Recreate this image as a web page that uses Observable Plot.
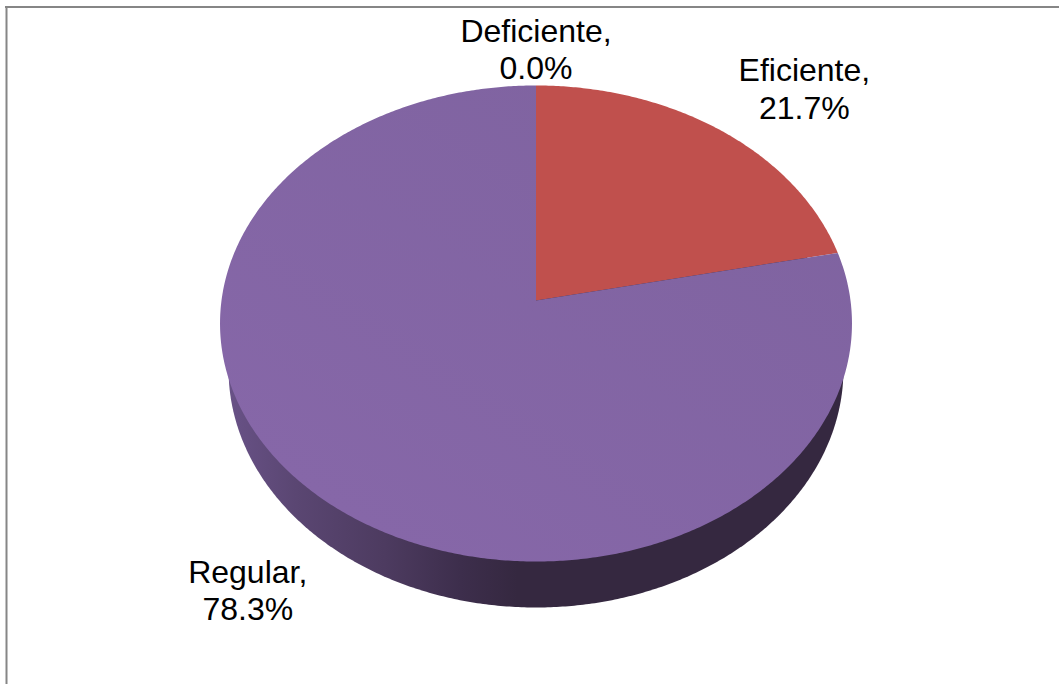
<!DOCTYPE html>
<html>
<head>
<meta charset="utf-8">
<script src="https://cdn.jsdelivr.net/npm/d3@7"></script>
<script src="https://cdn.jsdelivr.net/npm/@observablehq/plot@0.6"></script>
<style>
  html, body { margin: 0; padding: 0; background: #fff; overflow: hidden; }
  svg { display: block; }
</style>
</head>
<body>
<div id="chart"></div>
<script>
// Share of responses per rating, clockwise from twelve o'clock.
const categories = ["Deficiente", "Eficiente", "Regular"];
const shares = [0.0, 21.7, 78.3];
const sliceColors = ["#4F81BD", "#C0504D", "url(#face)"];

const W = 1059, H = 684;
const frameColor = "#868686";

// Tilted disc: a circle seen in perspective, centred on its apex.
const disc = {cx: 535.5, cy: 300, a: 314.5, b: 235.8, k: 0.0966};
const base = {cx: 535.5, cy: 346, a: 306, b: 235.8, k: 0.0966};

function project(p, turn) {
  const t = turn * 2 * Math.PI;
  const u = Math.sin(t), v = Math.cos(t), w = 1 + p.k * v;
  return {x: p.cx + p.a * u / w, y: p.cy - p.b * v / w};
}

function arc(p, from, to) {
  const n = Math.max(2, Math.ceil((to - from) * 720));
  return d3.range(n + 1).map((i) => project(p, from + (to - from) * i / n));
}

// Cumulative slice extents from the shares.
let running = 0;
const slices = categories.map((name, i) => {
  const from = running / 100;
  running += shares[i];
  return {name, share: shares[i], color: sliceColors[i], from, to: running / 100};
});

// Label placement, as an offset from the slice's mid-angle point on the rim.
const labelOffsets = {
  Deficiente: {dx: 0, dy: -37},
  Eficiente: {dx: 84, dy: -42},
  Regular: {dx: -74, dy: 91}
};

// Linear gradients for the disc's side wall and its face.
function linear(id, [x1, y1, x2, y2], stops) {
  const ns = "http://www.w3.org/2000/svg";
  const g = document.createElementNS(ns, "linearGradient");
  g.setAttribute("id", id);
  g.setAttribute("gradientUnits", "userSpaceOnUse");
  Object.entries({x1, y1, x2, y2}).forEach(([k, v]) => g.setAttribute(k, v));
  stops.forEach(([o, c]) => {
    const s = document.createElementNS(ns, "stop");
    s.setAttribute("offset", o);
    s.setAttribute("stop-color", c);
    g.appendChild(s);
  });
  return g;
}

const gradients = () => {
  const defs = document.createElementNS("http://www.w3.org/2000/svg", "defs");
  defs.appendChild(linear("rim", [220, 0, 851, 0], [
    [0, "#6A5389"], [0.12, "#5A4672"], [0.26, "#4D3B60"],
    [0.38, "#3D2E4C"], [0.47, "#352840"], [1, "#352840"]
  ]));
  defs.appendChild(linear("face", [700, 100, 400, 550], [[0, "#7F63A0"], [1, "#8667A8"]]));
  return defs;
};

const sliceMarks = slices.filter((s) => s.share > 0).map((s) => {
  const center = {x: disc.cx, y: disc.cy};
  return Plot.line([center, ...arc(disc, s.from, s.to), center], {
    x: "x", y: "y", fill: s.color, stroke: "none", z: null
  });
});

const labelMarks = slices.map((s) => {
  const anchor = project(disc, (s.from + s.to) / 2);
  const off = labelOffsets[s.name];
  return Plot.text([{...anchor, label: `${s.name},\n${s.share.toFixed(1)}%`}], {
    x: "x", y: "y", text: "label", dx: off.dx, dy: off.dy,
    fontSize: 32, lineHeight: 37.5 / 32, fill: "#000", lineAnchor: "middle", textAnchor: "middle"
  });
});

const chart = Plot.plot({
  width: W, height: H,
  margin: 0,
  style: {background: "#fff", fontFamily: "'Liberation Sans', Arial, sans-serif"},
  x: {domain: [0, W], range: [0, W], axis: null},
  y: {domain: [0, H], range: [0, H], axis: null},
  marks: [
    gradients,
    Plot.ruleX([6], {y1: 6, y2: H, stroke: frameColor, strokeWidth: 2}),
    Plot.ruleY([6.5], {x1: 5, x2: W, stroke: frameColor, strokeWidth: 2}),
    Plot.line(arc(base, 0, 1), {x: "x", y: "y", fill: "url(#rim)", stroke: "none", z: null}),
    ...sliceMarks,
    ...labelMarks
  ]
});
document.getElementById("chart").appendChild(chart);
</script>
</body>
</html>
